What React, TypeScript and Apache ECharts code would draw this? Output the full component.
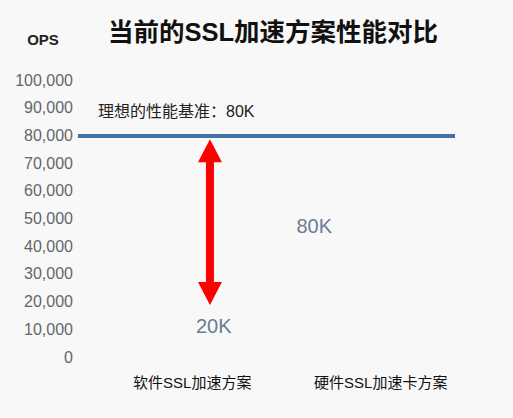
import * as echarts from 'echarts';
import type { ECharts, EChartsOption } from 'echarts';
import React, { useEffect, useRef } from 'react';

const categories = ['软件SSL加速方案', '硬件SSL加速卡方案'];
// two bar series share the categories; '-' leaves a slot empty
const hardwareOps: (number | string)[] = ['-', 80000];
const softwareOps: (number | string)[] = [20000, '-'];
const baselineOps = 80000;
// gap arrow, from just under the baseline down to just under the software value
const gapArrow = [[0, 78600, 18800]];
const yMin = 0;
const yMax = 100000;
const yInterval = 10000;

const FONT = "Arial, 'Liberation Sans', 'Noto Sans CJK SC', sans-serif";
const ARROW_RED = '#ff0000';

const App: React.FC = () => {
  const chartRef = useRef<HTMLDivElement>(null);

  useEffect(() => {
    document.body.style.margin = '0';
    document.body.style.background = '#f8f8f8';
    if (!chartRef.current) return;
    const chart: ECharts = echarts.init(chartRef.current, undefined, { renderer: 'svg' });

    const kLabel = (p: any) => p.value / 1000 + 'K';

    const option: EChartsOption = {
      animation: false,
      backgroundColor: '#f8f8f8',
      textStyle: { fontFamily: FONT },
      title: {
        text: '当前的SSL加速方案性能对比',
        left: 103,
        top: 14,
        textStyle: { fontSize: 25.5, fontWeight: 'bold', color: '#111', fontFamily: FONT }
      },
      grid: { left: 78, right: 58, top: 80, bottom: 61 },
      xAxis: {
        type: 'category',
        data: categories,
        axisLine: { show: false },
        axisTick: { show: false },
        axisLabel: { color: '#111', fontSize: 15, margin: 18, padding: [0, 0, 0, 40] }
      },
      yAxis: {
        type: 'value',
        name: 'OPS',
        nameGap: 33,
        nameTextStyle: { fontSize: 15, fontWeight: 'bold', color: '#222', padding: [0, 70, 0, 0] },
        min: yMin,
        max: yMax,
        interval: yInterval,
        axisLine: { show: false },
        axisTick: { show: false },
        splitLine: { show: false },
        axisLabel: { color: '#666', fontSize: 16, margin: 5 }
      },
      series: [
        {
          type: 'bar',
          name: '硬件',
          data: hardwareOps,
          barCategoryGap: '20%',
          itemStyle: { color: 'transparent' },
          label: {
            show: true,
            position: 'inside',
            offset: [-7, -20],
            formatter: kLabel,
            color: '#6b7c93',
            fontSize: 20
          },
          markLine: {
            silent: true,
            symbol: 'none',
            lineStyle: { color: '#4273a8', width: 4, type: 'solid' },
            label: {
              position: 'insideStartTop',
              distance: [20, 16],
              formatter: '理想的性能基准：80K',
              color: '#222',
              fontSize: 16
            },
            data: [{ yAxis: baselineOps }]
          }
        },
        {
          type: 'bar',
          name: '软件',
          data: softwareOps,
          barCategoryGap: '20%',
          itemStyle: { color: 'transparent' },
          label: {
            show: true,
            position: 'inside',
            offset: [2, -3],
            formatter: kLabel,
            color: '#6b7c93',
            fontSize: 20
          }
        },
        {
          type: 'custom',
          data: gapArrow,
          encode: { x: 0, y: [1, 2] },
          silent: true,
          z: 5,
          renderItem: (params: any, api: any) => {
            const layout = api.barLayout({ count: 2, barCategoryGap: '20%' });
            const top = api.coord([api.value(0), api.value(1)]);
            const bottom = api.coord([api.value(0), api.value(2)]);
            const x = top[0] + layout[1].offsetCenter;
            const headH = 23;
            const headW = 24;
            const shaftW = 8;
            const style = { fill: ARROW_RED };
            return {
              type: 'group',
              children: [
                {
                  type: 'rect',
                  shape: { x: x - shaftW / 2, y: top[1] + headH - 1, width: shaftW, height: bottom[1] - top[1] - 2 * headH + 2 },
                  style
                },
                {
                  type: 'polygon',
                  shape: { points: [[x, top[1]], [x - headW / 2, top[1] + headH], [x + headW / 2, top[1] + headH]] },
                  style
                },
                {
                  type: 'polygon',
                  shape: { points: [[x, bottom[1]], [x - headW / 2, bottom[1] - headH], [x + headW / 2, bottom[1] - headH]] },
                  style
                }
              ]
            };
          }
        }
      ]
    };

    chart.setOption(option);
    return () => {
      chart.dispose();
    };
  }, []);

  return <div ref={chartRef} style={{ width: '513px', height: '418px' }} />;
};

export default App;
